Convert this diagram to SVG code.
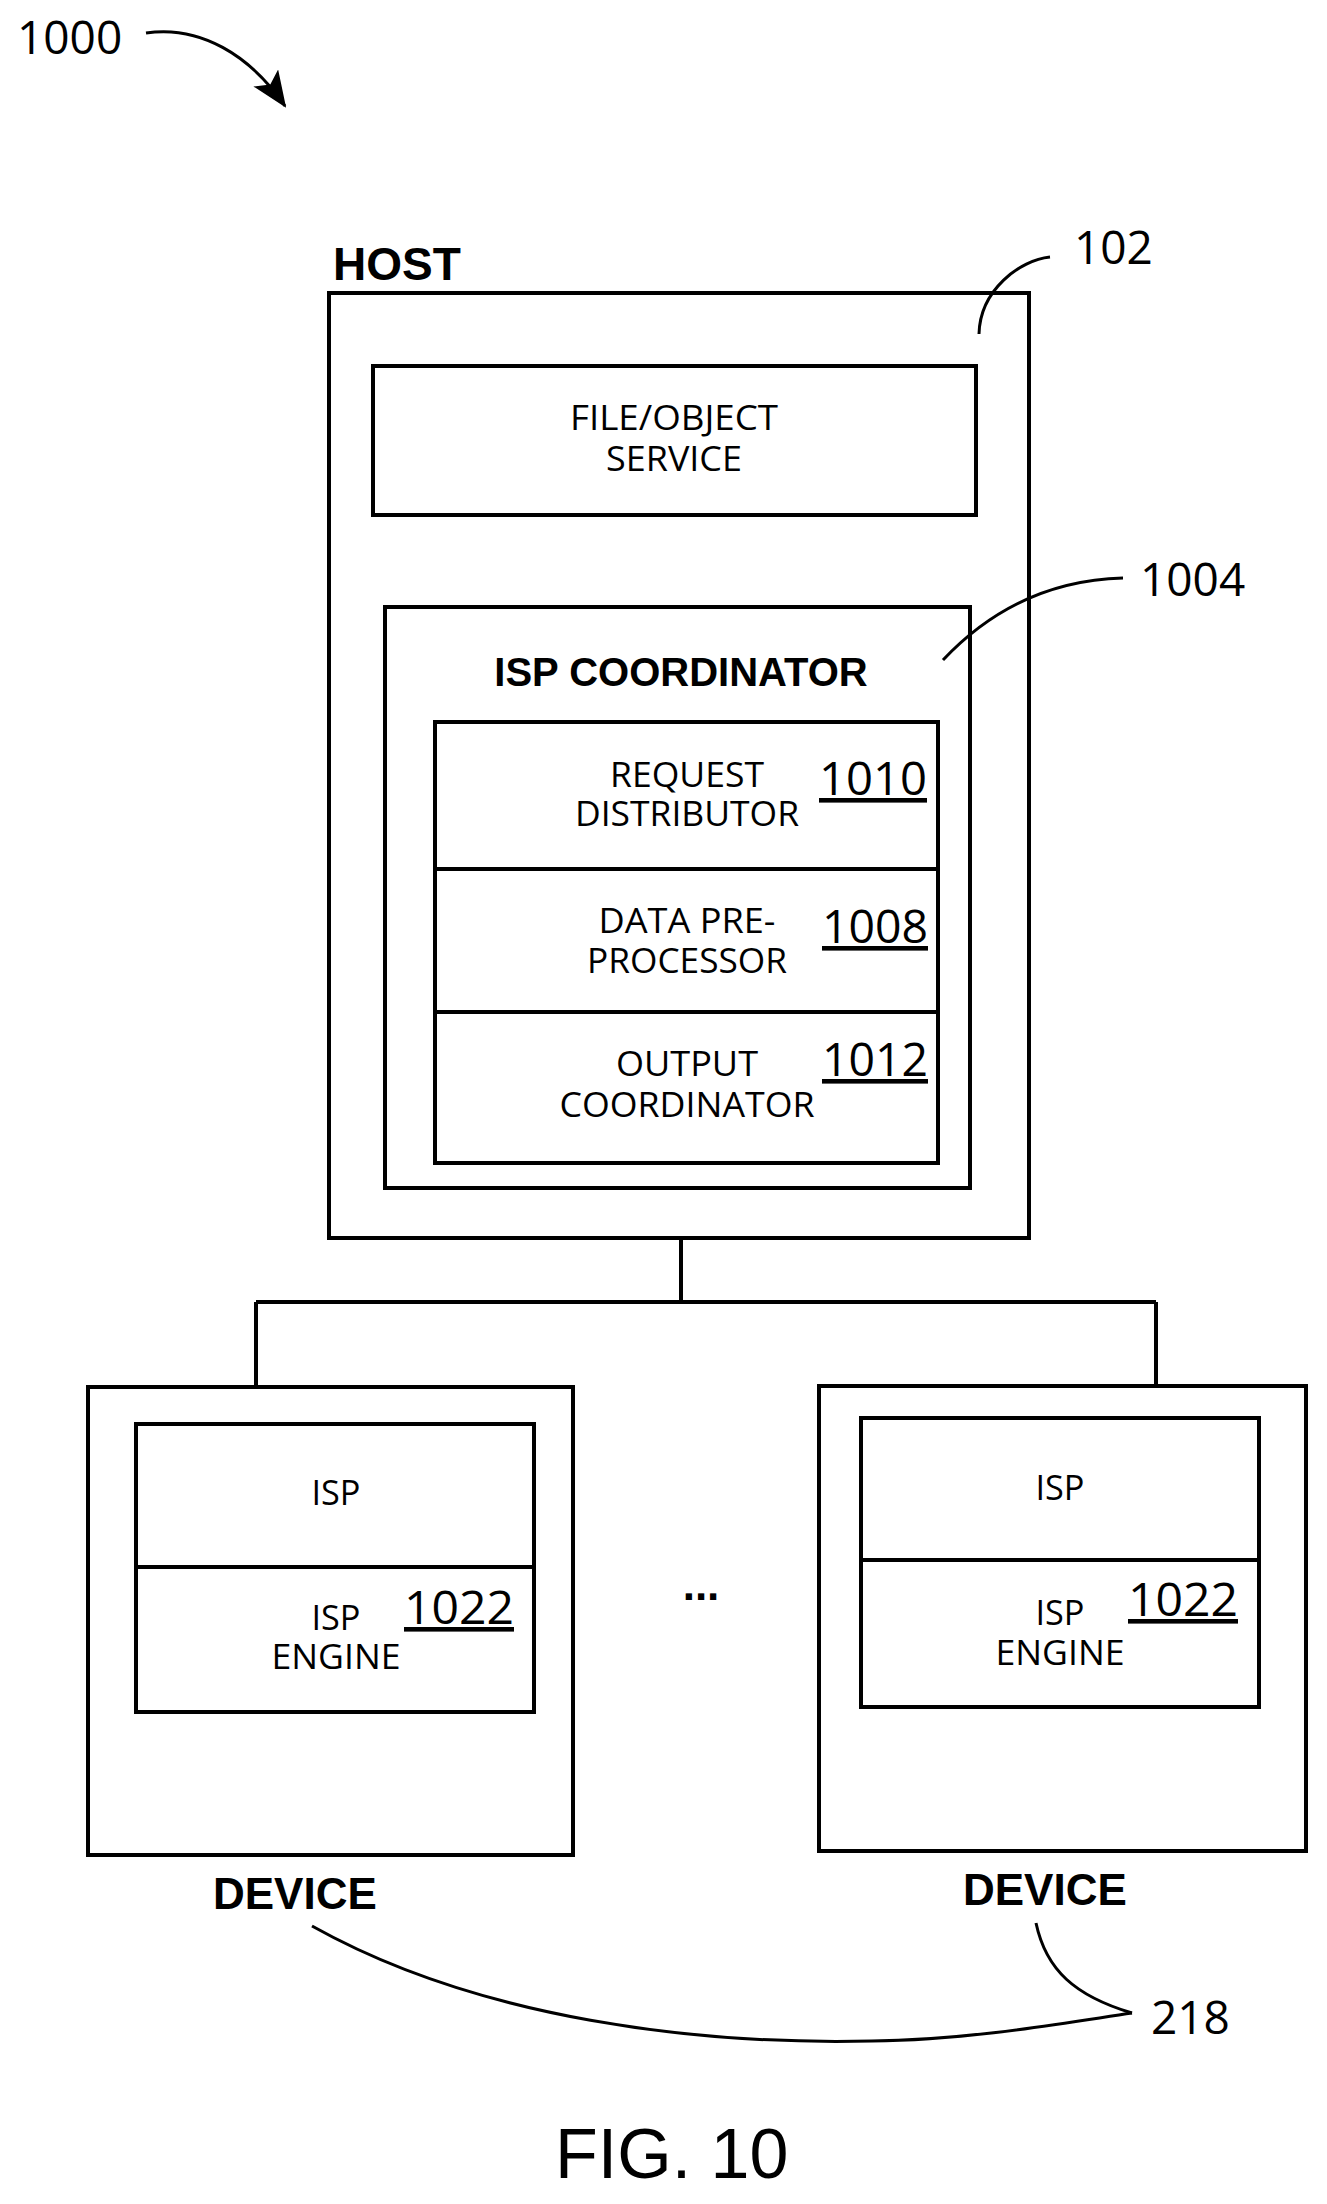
<svg xmlns="http://www.w3.org/2000/svg" width="1327" height="2204" viewBox="0 0 1327 2204">
<style>
.b{fill:#fff;stroke:#000;stroke-width:4}
.l{fill:none;stroke:#000;stroke-width:3}
.c{stroke:#000;stroke-width:4;fill:none}
.t{font-family:"Open Sans",sans-serif;font-size:35px;text-anchor:middle}
.n{font-family:"Open Sans",sans-serif;font-size:46px}
.h{font-family:"Liberation Sans",Arial,sans-serif;font-weight:bold}
</style>
<defs>
<marker id="a2" markerWidth="36" markerHeight="30" refX="34" refY="15" orient="auto" markerUnits="userSpaceOnUse"><path d="M0,0L36,15L0,30L8,15z"/></marker></defs>
<g id="ref1000"><text class="n" x="17" y="54">1000</text><path class="l" d="M146,33 C200,25 250,55 285,106" marker-end="url(#a2)"/></g>
<g id="connectors">
<path class="c" d="M681,1238 V1302 M256,1302 H1156 M256,1302 V1387 M1156,1302 V1386"/>
</g>
<g id="host">
<rect class="b" x="329" y="293" width="700" height="945"/>
<text class="h" x="333" y="280" font-size="46">HOST</text>
<text class="n" x="1074" y="264">102</text>
<path class="l" d="M979,334 C980,290 1020,260 1050,257"/>
</g>
<g id="fileobj">
<rect class="b" x="373" y="366" width="603" height="149"/>
<text class="t" x="674" y="430" textLength="208" lengthAdjust="spacingAndGlyphs">FILE/OBJECT</text>
<text class="t" x="674" y="471" textLength="136" lengthAdjust="spacingAndGlyphs">SERVICE</text>
</g>
<g id="ispcoord">
<rect class="b" x="385" y="607" width="585" height="581"/>
<text class="h" x="681" y="686" font-size="40" text-anchor="middle">ISP COORDINATOR</text>
<text class="n" x="1140" y="596">1004</text>
<path class="l" d="M943,660 C990,610 1050,580 1123,578"/>
<rect class="b" x="435" y="722" width="503" height="441"/>
<line class="c" x1="435" y1="869" x2="938" y2="869"/>
<line class="c" x1="435" y1="1012" x2="938" y2="1012"/>
</g>
<g id="n1010"><text class="t" x="687" y="787" textLength="154" lengthAdjust="spacingAndGlyphs">REQUEST</text><text class="t" x="687" y="826" textLength="224" lengthAdjust="spacingAndGlyphs">DISTRIBUTOR</text><text class="n" x="873" y="795" text-anchor="middle" text-decoration="underline" textLength="108" lengthAdjust="spacingAndGlyphs">1010</text></g>
<g id="n1008"><text class="t" x="687" y="933" textLength="177" lengthAdjust="spacingAndGlyphs">DATA PRE-</text><text class="t" x="687" y="973" textLength="200" lengthAdjust="spacingAndGlyphs">PROCESSOR</text><text class="n" x="875" y="943" text-anchor="middle" text-decoration="underline" textLength="106" lengthAdjust="spacingAndGlyphs">1008</text></g>
<g id="n1012"><text class="t" x="687" y="1076" textLength="142" lengthAdjust="spacingAndGlyphs">OUTPUT</text><text class="t" x="687" y="1117" textLength="255" lengthAdjust="spacingAndGlyphs">COORDINATOR</text><text class="n" x="875" y="1076" text-anchor="middle" text-decoration="underline" textLength="106" lengthAdjust="spacingAndGlyphs">1012</text></g>
<g id="device1">
<rect class="b" x="88" y="1387" width="485" height="468"/>
<rect class="b" x="136" y="1424" width="398" height="288"/>
<line class="c" x1="136" y1="1567" x2="534" y2="1567"/>
<text class="t" x="336" y="1505" textLength="49" lengthAdjust="spacingAndGlyphs">ISP</text>
<text class="t" x="336" y="1630" textLength="49" lengthAdjust="spacingAndGlyphs">ISP</text>
<text class="t" x="336" y="1669" textLength="129" lengthAdjust="spacingAndGlyphs">ENGINE</text>
<text class="n" x="459" y="1624" text-anchor="middle" text-decoration="underline" textLength="110" lengthAdjust="spacingAndGlyphs">1022</text>
<text class="h" x="213" y="1909" font-size="44">DEVICE</text>
</g>
<g id="device2">
<rect class="b" x="819" y="1386" width="487" height="465"/>
<rect class="b" x="861" y="1418" width="398" height="289"/>
<line class="c" x1="861" y1="1560" x2="1259" y2="1560"/>
<text class="t" x="1060" y="1500" textLength="49" lengthAdjust="spacingAndGlyphs">ISP</text>
<text class="t" x="1060" y="1625" textLength="49" lengthAdjust="spacingAndGlyphs">ISP</text>
<text class="t" x="1060" y="1665" textLength="129" lengthAdjust="spacingAndGlyphs">ENGINE</text>
<text class="n" x="1183" y="1616" text-anchor="middle" text-decoration="underline" textLength="110" lengthAdjust="spacingAndGlyphs">1022</text>
<text class="h" x="963" y="1905" font-size="44">DEVICE</text>
</g>
<text class="h" x="701" y="1600" font-size="44" text-anchor="middle">...</text>
<g id="ref218">
<path class="l" d="M312,1926 C480,2020 700,2045 872,2041 C970,2040 1070,2022 1132,2013"/>
<path class="l" d="M1036,1923 C1046,1970 1075,1996 1132,2013"/>
<text class="n" x="1151" y="2034">218</text>
</g>
<text x="555" y="2178" font-family="Liberation Sans, Arial, sans-serif" font-size="70">FIG. 10</text>
</svg>
